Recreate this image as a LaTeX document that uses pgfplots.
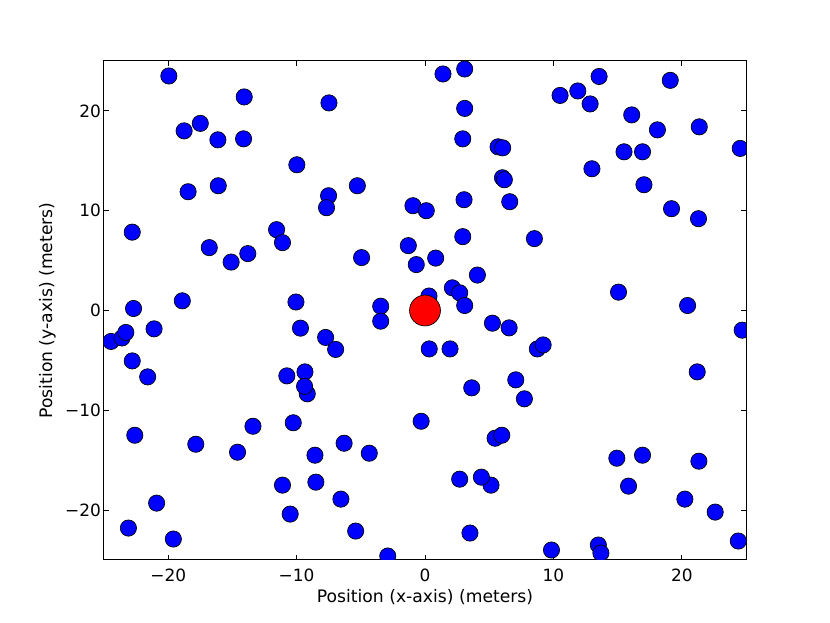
\documentclass[border=0pt]{standalone}
\usepackage{pgfplots}
\pgfplotsset{compat=1.18}
\usepackage{fontspec}
\setmainfont{DejaVu Sans}

\pgfplotstableread{
x y
-19.95 23.5
-14.08 21.4
-7.48 20.8
-18.76 18.0
-17.5 18.75
-16.13 17.1
-14.13 17.2
-9.98 14.6
-18.45 11.9
-16.1 12.5
-7.51 11.5
-7.67 10.3
-5.27 12.5
-0.94 10.5
0.1 10.0
-22.8 7.85
-11.56 8.1
-11.1 6.8
-16.8 6.3
-15.1 4.85
-13.8 5.7
-4.94 5.3
-1.3 6.5
-0.68 4.6
0.83 5.25
-22.7 0.2
-18.9 0.97
-10.05 0.85
-3.45 0.43
0.31 1.45
1.4 23.7
3.09 24.2
3.09 20.25
2.94 17.2
5.69 16.4
6.05 16.3
6.03 13.3
6.18 13.1
3.04 11.1
6.6 10.9
2.94 7.4
8.52 7.2
4.08 3.55
2.13 2.27
2.7 1.77
3.09 0.5
10.52 21.55
11.9 22.0
13.56 23.45
12.86 20.7
19.1 23.06
16.1 19.6
18.1 18.1
21.36 18.4
24.55 16.24
15.5 15.9
16.94 15.9
13.0 14.2
17.05 12.6
19.2 10.2
21.3 9.2
15.07 1.84
20.45 0.5
-3.45 -1.07
-24.45 -3.1
-23.6 -2.75
-23.3 -2.2
-21.1 -1.84
-22.8 -5.05
-21.6 -6.65
-9.7 -1.77
-7.74 -2.7
-6.96 -3.9
-10.76 -6.55
-9.35 -6.15
-9.17 -8.35
-9.38 -7.6
0.33 -3.85
-0.3 -11.1
-22.6 -12.5
-17.85 -13.4
-14.6 -14.2
-13.4 -11.6
-10.26 -11.25
-8.57 -14.5
-6.3 -13.3
-4.34 -14.3
-11.1 -17.5
-8.5 -17.2
-6.55 -18.9
-10.5 -20.4
-20.9 -19.3
-23.1 -21.8
-19.6 -22.9
-5.4 -22.1
-2.9 -24.6
5.25 -1.27
6.55 -1.74
1.95 -3.85
8.75 -3.85
9.2 -3.45
24.7 -1.97
21.2 -6.15
3.64 -7.75
7.07 -6.95
7.74 -8.85
5.46 -12.8
5.98 -12.5
14.94 -14.8
16.94 -14.5
21.33 -15.1
2.7 -16.9
5.14 -17.5
4.39 -16.7
15.85 -17.6
20.24 -18.9
22.6 -20.2
24.4 -23.1
3.5 -22.3
9.85 -24.0
13.5 -23.5
13.7 -24.3
}\others

\begin{document}
\begin{tikzpicture}
\useasboundingbox (-78pt,-47.25pt) rectangle (544.5pt,420pt);
\begin{axis}[
    at={(0,0)}, anchor=south west,
    scale only axis, width=481.5pt, height=374.25pt,
    xmin=-25, xmax=25, ymin=-25, ymax=25,
    xtick={-20,-10,0,10,20}, ytick={-20,-10,0,10,20},
    xticklabels={−20,−10,0,10,20}, yticklabels={−20,−10,0,10,20},
    tick align=inside, major tick length=4.1pt,
    minor tick num=0,
    axis line style={line width=0.75pt},
    tick style={line width=0.6pt, black},
    tick label style={font=\fontsize{12.7}{15}\selectfont, inner sep=0pt},
    xticklabel style={yshift=-6.2pt},
    yticklabel style={xshift=-2.2pt},
    label style={font=\fontsize{12.9}{15}\selectfont, inner sep=0pt},
    xlabel={Position (x-axis) (meters)},
    ylabel={Position (y-axis) (meters)},
    xlabel style={at={(axis description cs:0.5,0)}, anchor=north, yshift=-21.5pt},
    ylabel style={at={(axis description cs:0,0.5)}, anchor=south, yshift=36pt},
    clip marker paths=true,
]
\addplot[only marks, mark=*, mark size=6.1pt,
    mark options={fill=blue, draw=black, line width=0.5pt}] table {\others};
\addplot[only marks, mark=*, mark size=11.6pt,
    mark options={fill=red, draw=black, line width=0.5pt}] coordinates {(0,0)};
\end{axis}
\end{tikzpicture}
\end{document}
